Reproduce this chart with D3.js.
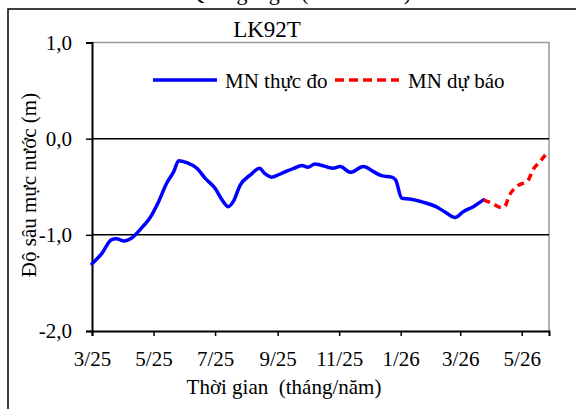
<!DOCTYPE html>
<html><head><meta charset="utf-8">
<script src="https://cdn.jsdelivr.net/npm/d3@7"></script>
<style>body{margin:0;background:#fff}svg{display:block}svg text{font-family:"Liberation Serif","Times New Roman",serif;fill:#000}</style>
</head><body><svg id="c" width="576" height="409" font-family="Liberation Serif"></svg>
<script>
const measuredDates = ["2025-03-01","2025-03-11","2025-03-20","2025-03-25","2025-04-02","2025-04-09","2025-04-19","2025-04-27","2025-05-06","2025-05-14","2025-05-21","2025-05-26","2025-06-03","2025-06-13","2025-06-21","2025-07-01","2025-07-08","2025-07-14","2025-07-19","2025-07-26","2025-08-05","2025-08-14","2025-08-19","2025-08-26","2025-09-05","2025-09-17","2025-09-25","2025-10-01","2025-10-08","2025-10-13","2025-10-26","2025-11-02","2025-11-12","2025-11-25","2025-12-05","2025-12-13","2025-12-23","2025-12-27","2026-01-02","2026-01-10","2026-01-23","2026-02-05","2026-02-15","2026-02-24","2026-03-04","2026-03-14","2026-03-24"];
const measuredValues = [-1.30,-1.19,-1.053,-1.04,-1.063,-1.035,-0.93,-0.83,-0.655,-0.464,-0.343,-0.229,-0.25,-0.308,-0.41,-0.516,-0.637,-0.707,-0.655,-0.481,-0.377,-0.308,-0.36,-0.40,-0.36,-0.308,-0.28,-0.297,-0.263,-0.273,-0.308,-0.29,-0.35,-0.29,-0.343,-0.385,-0.40,-0.43,-0.62,-0.627,-0.66,-0.707,-0.77,-0.82,-0.759,-0.707,-0.637];
const forecastDates = ["2026-03-24","2026-04-01","2026-04-11","2026-04-14","2026-04-19","2026-04-27","2026-05-07","2026-05-12","2026-05-19","2026-05-27"];
const forecastValues = [-0.637,-0.67,-0.717,-0.707,-0.585,-0.49,-0.437,-0.325,-0.239,-0.135];
const xTickDates = ["2025-03-01","2025-05-01","2025-07-01","2025-09-01","2025-11-01","2026-01-01","2026-03-01","2026-05-01"];
const xTickLabels = ["3/25","5/25","7/25","9/25","11/25","1/26","3/26","5/26"];
const yTicks = [1,0,-1,-2];
const yTickLabels = ["1,0","0,0","-1,0","-2,0"];
const gridValues = [0,-1];
const title = "LK92T";
const topText = "Quảng Ngãi (2025-2026)";
const yTitle = "Độ sâu mực nước (m)";
const xTitle = "Thời gian  (tháng/năm)";
const seriesNames = ["MN thực đo","MN dự báo"];

const FONT = "Liberation Serif";
const FS = 21;
const parse = d3.timeParse("%Y-%m-%d");
const svg = d3.select("#c");
const L=92, R=549, T=42.5, B=331;
const x = d3.scaleTime().domain([parse("2025-03-01"), parse("2026-05-28")]).range([L,R]);
const y = d3.scaleLinear().domain([-2,1]).range([B,T]);

svg.append("rect").attr("x",8).attr("y",9).attr("width",600).attr("height",450)
  .attr("fill","none").attr("stroke","#000").attr("stroke-width",1.5);
svg.append("text").attr("x",300).attr("y",0).attr("text-anchor","middle").attr("font-size",22).text(topText);

svg.append("path").attr("d",`M${L},${T}H${R}V${B}`).attr("fill","none").attr("stroke","#999").attr("stroke-width",1.5);
svg.selectAll(".g").data(gridValues).enter().append("line")
  .attr("x1",L).attr("x2",R).attr("y1",d=>y(d)).attr("y2",d=>y(d))
  .attr("stroke","#000").attr("stroke-width",1.5);

const ya = svg.append("g").attr("transform",`translate(${L},0)`)
  .call(d3.axisLeft(y).tickValues(yTicks).tickSize(6).tickPadding(14).tickFormat((d,i)=>yTickLabels[i]));
ya.attr("font-family",FONT).attr("font-size",FS);
ya.select(".domain").attr("stroke","#000").attr("stroke-width",2);
ya.selectAll(".tick line").attr("stroke","#000").attr("stroke-width",1.5);

const xa = svg.append("g").attr("transform",`translate(0,${B})`)
  .call(d3.axisBottom(x).tickValues(xTickDates.map(parse)).tickSize(5).tickPadding(15).tickFormat((d,i)=>xTickLabels[i]));
xa.attr("font-family",FONT).attr("font-size",FS);
xa.select(".domain").attr("stroke","#000").attr("stroke-width",2);
xa.selectAll(".tick line").attr("stroke","#000").attr("stroke-width",1.5);

const line = d3.line().x(d=>x(d[0])).y(d=>y(d[1])).curve(d3.curveMonotoneX);
const m = measuredDates.map((d,i)=>[parse(d),measuredValues[i]]);
const f = forecastDates.map((d,i)=>[parse(d),forecastValues[i]]);
svg.append("path").attr("d",line(m)).attr("fill","none").attr("stroke","#0000ff").attr("stroke-width",3.5).attr("stroke-linejoin","round").attr("stroke-linecap","round");
svg.append("path").attr("d",line(f)).attr("fill","none").attr("stroke","#ff0000").attr("stroke-width",3.5).attr("stroke-dasharray","7,5");

svg.append("text").attr("x",267).attr("y",37).attr("text-anchor","middle").attr("font-size",23).text(title);
svg.append("text").attr("transform","translate(36,185) rotate(-90)").attr("text-anchor","middle").attr("font-size",FS).text(yTitle);
svg.append("text").attr("x",284).attr("y",394).attr("text-anchor","middle").attr("font-size",FS).style("white-space","pre").text(xTitle);

svg.append("line").attr("x1",153).attr("x2",217).attr("y1",80).attr("y2",80).attr("stroke","#0000ff").attr("stroke-width",3.5);
svg.append("text").attr("x",225).attr("y",88).attr("font-size",FS).text(seriesNames[0]);
svg.append("line").attr("x1",335).attr("x2",399).attr("y1",80).attr("y2",80).attr("stroke","#ff0000").attr("stroke-width",3.5).attr("stroke-dasharray","9,5");
svg.append("text").attr("x",408).attr("y",88).attr("font-size",FS).text(seriesNames[1]);
</script></body></html>
